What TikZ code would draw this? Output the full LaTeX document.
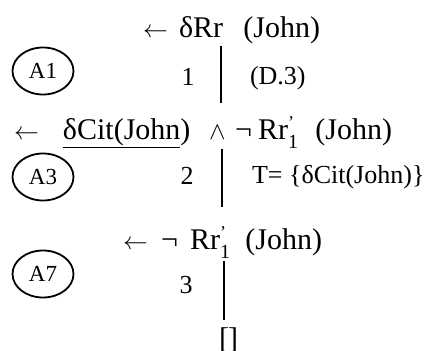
\documentclass[tikz,border=0pt]{standalone}
\usepackage{fontspec}
\setmainfont{Liberation Serif}
\usetikzlibrary{shapes.geometric}
\newcommand{\Rrone}{Rr\rlap{\raisebox{0.36em}{\fontsize{18}{18}\selectfont '}}\raisebox{-0.32em}{\fontsize{20}{20}\selectfont 1}}
\begin{document}
\begin{tikzpicture}[x=1pt,y=-1pt,
  every node/.style={inner sep=0pt, outer sep=0pt},
  big/.style={font=\fontsize{30}{34}\selectfont},
  side/.style={font=\fontsize{26}{30}\selectfont},
  tag/.style={draw, ellipse, line width=1.8pt, minimum width=61pt, minimum height=47pt, font=\fontsize{23}{26}\selectfont},
  rulel/.style={line width=2.6pt}]
\useasboundingbox (0,0) rectangle (429,351);

% row 1
\node[big, anchor=base west] (r1a) at (143,37) {$\leftarrow$};
\node[big, anchor=base west] (r1b) at (179,37) {δRr};
\node[big, anchor=base east] (r1c) at (320,37) {(John)};

% row 2
\node[big, anchor=base west] (r2a) at (14,139) {$\leftarrow$};
\node[big, anchor=base west] (r2b) at (63,139) {\underline{δCit(John})};
\node[big, anchor=base west] (r2c) at (209,139) {$\wedge$};
\node[big, anchor=base west] (r2d) at (235,139) {¬};
\node[big, anchor=base west] (r2e) at (258,139) {\Rrone};
\node[big, anchor=base east] (r2f) at (392,139) {(John)};

% row 3
\node[big, anchor=base west] (r3a) at (123,249) {$\leftarrow$};
\node[big, anchor=base west] (r3b) at (161,249) {¬};
\node[big, anchor=base west] (r3c) at (190,249) {\Rrone};
\node[big, anchor=base east] (r3d) at (322,249) {(John)};

\node[big, anchor=base west] (box) at (219,348) {[\hspace{-1pt}]};

\node[tag] (a1) at (43,71) {A1};
\node[tag] (a3) at (43,177) {A3};
\node[tag] (a7) at (43,274) {A7};

\node[side, anchor=base] (n1) at (188,85) {1};
\node[side, anchor=base] (n2) at (187,184) {2};
\node[side, anchor=base] (n3) at (186,293) {3};

\node[side, anchor=base west] (j1) at (250,84) {(D.3)};
\node[side, anchor=base west] (j2) at (252,183) {T= \{δCit(John)\}};

\coordinate (t1) at (221,46);  \coordinate (b1) at (221,103);
\coordinate (t2) at (222,149); \coordinate (b2) at (222,207);
\coordinate (t3) at (224,261); \coordinate (b3) at (224,320);
\draw[rulel] (t1) -- (b1);
\draw[rulel] (t2) -- (b2);
\draw[rulel] (t3) -- (b3);
\end{tikzpicture}
\end{document}
